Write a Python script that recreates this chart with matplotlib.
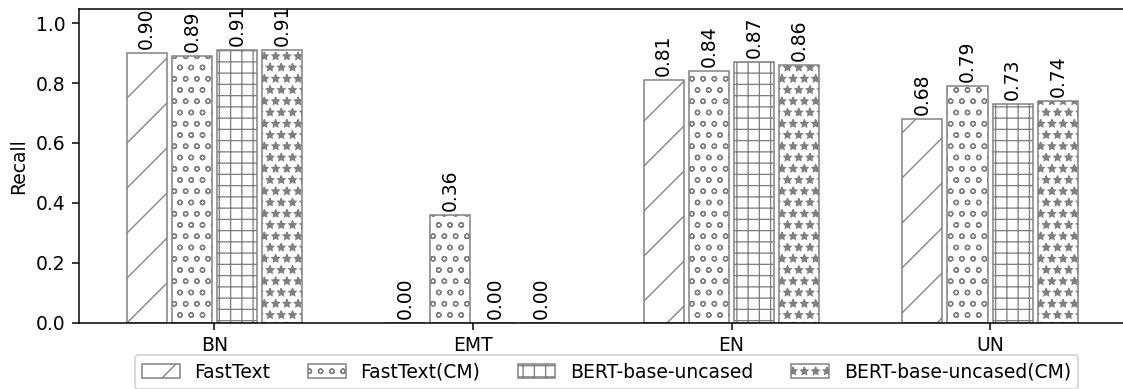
import numpy as np
import matplotlib.pyplot as plt

# Recall per class for each model
classes = ['BN', 'EMT', 'EN', 'UN']
models = ['FastText', 'FastText(CM)', 'BERT-base-uncased', 'BERT-base-uncased(CM)']
fasttext = [0.90, 0.00, 0.81, 0.68]
fasttext_cm = [0.89, 0.36, 0.84, 0.79]
bert = [0.91, 0.00, 0.87, 0.73]
bert_cm = [0.91, 0.00, 0.86, 0.74]

series = [fasttext, fasttext_cm, bert, bert_cm]
hatches = ['/', 'oo', '++', '**']

plt.rcParams['hatch.color'] = 'grey'
plt.rcParams['hatch.linewidth'] = 0.7

dpi = 135
fig = plt.figure(figsize=(1123 / dpi, 389 / dpi), dpi=dpi)
ax = fig.add_axes([0.0703, 0.170, 0.932, 0.807])

x = np.arange(len(classes))
width = 0.155
step = 0.175

for i, (vals, name, h) in enumerate(zip(series, models, hatches)):
    bars = ax.bar(x + (i - 1.5) * step, vals, width, label=name,
                  color='white', edgecolor='grey', hatch=h, linewidth=0.8)
    ax.bar_label(bars, fmt='%.2f', rotation=90, padding=2, fontsize=10)

ax.set_xticks(x)
ax.set_xticklabels(classes)
ax.set_ylabel('Recall')
ax.set_ylim(0, 1.047)

fig.legend(loc='upper center', bbox_to_anchor=(0.540, 0.0874), ncol=4,
           fontsize=10, borderaxespad=0)

fig.savefig('out.png', dpi=dpi)
